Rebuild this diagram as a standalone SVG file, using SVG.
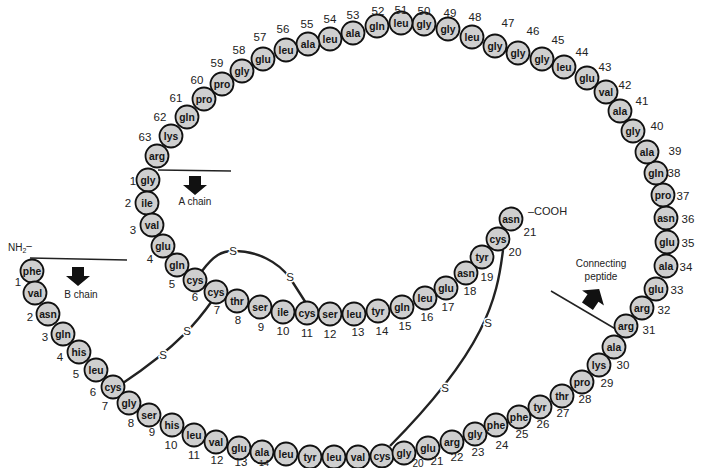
<svg xmlns="http://www.w3.org/2000/svg" width="701" height="468" viewBox="0 0 701 468">
<style>
.r circle{fill:#cfcfcf;stroke:#111;stroke-width:1.8}
.r text{font-family:"Liberation Sans",Arial,sans-serif;font-size:10.3px;font-weight:bold;fill:#151515;text-anchor:middle;dominant-baseline:central}
.n{font-family:"Liberation Sans",Arial,sans-serif;font-size:11.5px;fill:#222;text-anchor:middle;dominant-baseline:central}
.ss{fill:none;stroke:#222;stroke-width:2.4}
.s{font-family:"Liberation Sans",Arial,sans-serif;font-size:11.5px;fill:#222;text-anchor:middle;dominant-baseline:central;stroke:#fff;stroke-width:3;paint-order:stroke}
.t{font-family:"Liberation Sans",Arial,sans-serif;font-size:10px;fill:#222;text-anchor:middle}
.ln{stroke:#222;stroke-width:1.5;fill:none}
</style>
<defs>
<path id="arr" d="M-6,-9 H6 V0 H12 L0,10 L-12,0 H-6 Z" fill="#111"/>
</defs>

<g id="connectors">
<path class="ss" d="M202,271 C214,255 222,251 233,251 C258,251 278,262 290,278 L306,303"/>
<path class="ss" d="M212,301 C200,318 180,345 123,383"/>
<path class="ss" d="M503,250 C497,300 485,350 390,446"/>
<text class="s" x="233" y="251">S</text>
<text class="s" x="290" y="277">S</text>
<text class="s" x="187" y="331">S</text>
<text class="s" x="163" y="355">S</text>
<text class="s" x="488" y="323">S</text>
<text class="s" x="445" y="388">S</text>
</g>

<g id="markers">
<line class="ln" x1="158" y1="170" x2="231" y2="171"/>
<use href="#arr" transform="translate(195,185)"/>
<text class="t" x="195" y="205">A chain</text>
<line class="ln" x1="30" y1="258" x2="127" y2="260"/>
<use href="#arr" transform="translate(78,276)"/>
<text class="t" x="81" y="298">B chain</text>
<line class="ln" x1="551" y1="291" x2="619" y2="331"/>
<use href="#arr" transform="translate(593,298) rotate(214) scale(1.1)"/>
<text class="t" x="601" y="267">Connecting</text>
<text class="t" x="601" y="280">peptide</text>
<text class="t" x="528" y="215" style="text-anchor:start;font-size:11px">–COOH</text>
<text class="t" x="8" y="251" style="text-anchor:start;font-size:10px">NH<tspan font-size="7" dy="2">2</tspan><tspan dy="-4">–</tspan></text>
</g>

<g id="A1" class="r"><circle cx="148" cy="180" r="11.5"/><text x="148" y="180">gly</text></g>
<g id="A2" class="r"><circle cx="147" cy="203" r="11.5"/><text x="147" y="203">ile</text></g>
<g id="A3" class="r"><circle cx="152" cy="225" r="11.5"/><text x="152" y="225">val</text></g>
<g id="A4" class="r"><circle cx="163" cy="246" r="11.5"/><text x="163" y="246">glu</text></g>
<g id="A5" class="r"><circle cx="177" cy="265" r="11.5"/><text x="177" y="265">gln</text></g>
<g id="A6" class="r"><circle cx="195" cy="280" r="11.5"/><text x="195" y="280">cys</text></g>
<g id="A7" class="r"><circle cx="216" cy="292" r="11.5"/><text x="216" y="292">cys</text></g>
<g id="A8" class="r"><circle cx="237" cy="301" r="11.5"/><text x="237" y="301">thr</text></g>
<g id="A9" class="r"><circle cx="260" cy="307" r="11.5"/><text x="260" y="307">ser</text></g>
<g id="A10" class="r"><circle cx="283" cy="312" r="11.5"/><text x="283" y="312">ile</text></g>
<g id="A11" class="r"><circle cx="307" cy="313" r="11.5"/><text x="307" y="313">cys</text></g>
<g id="A12" class="r"><circle cx="330" cy="314" r="11.5"/><text x="330" y="314">ser</text></g>
<g id="A13" class="r"><circle cx="354" cy="314" r="11.5"/><text x="354" y="314">leu</text></g>
<g id="A14" class="r"><circle cx="378" cy="311" r="11.5"/><text x="378" y="311">tyr</text></g>
<g id="A15" class="r"><circle cx="402" cy="307" r="11.5"/><text x="402" y="307">gln</text></g>
<g id="A16" class="r"><circle cx="425" cy="298" r="11.5"/><text x="425" y="298">leu</text></g>
<g id="A17" class="r"><circle cx="446" cy="288" r="11.5"/><text x="446" y="288">glu</text></g>
<g id="A18" class="r"><circle cx="466" cy="273" r="11.5"/><text x="466" y="273">asn</text></g>
<g id="A19" class="r"><circle cx="482" cy="257" r="11.5"/><text x="482" y="257">tyr</text></g>
<g id="A20" class="r"><circle cx="498" cy="239" r="11.5"/><text x="498" y="239">cys</text></g>
<g id="A21" class="r"><circle cx="511" cy="219" r="11.5"/><text x="511" y="219">asn</text></g>

<g id="B1" class="r"><circle cx="32" cy="271" r="11.5"/><text x="32" y="271">phe</text></g>
<g id="B2" class="r"><circle cx="35" cy="293" r="11.5"/><text x="35" y="293">val</text></g>
<g id="B3" class="r"><circle cx="48" cy="314" r="11.5"/><text x="48" y="314">asn</text></g>
<g id="B4" class="r"><circle cx="63" cy="334" r="11.5"/><text x="63" y="334">gln</text></g>
<g id="B5" class="r"><circle cx="79" cy="352" r="11.5"/><text x="79" y="352">his</text></g>
<g id="B6" class="r"><circle cx="96" cy="370" r="11.5"/><text x="96" y="370">leu</text></g>
<g id="B7" class="r"><circle cx="113" cy="387" r="11.5"/><text x="113" y="387">cys</text></g>
<g id="B8" class="r"><circle cx="129" cy="403" r="11.5"/><text x="129" y="403">gly</text></g>
<g id="B9" class="r"><circle cx="149" cy="415" r="11.5"/><text x="149" y="415">ser</text></g>
<g id="B10" class="r"><circle cx="172" cy="425" r="11.5"/><text x="172" y="425">his</text></g>
<g id="B11" class="r"><circle cx="194" cy="435" r="11.5"/><text x="194" y="435">leu</text></g>
<g id="B12" class="r"><circle cx="216" cy="442" r="11.5"/><text x="216" y="442">val</text></g>
<g id="B13" class="r"><circle cx="239" cy="448" r="11.5"/><text x="239" y="448">glu</text></g>
<g id="B14" class="r"><circle cx="262" cy="452" r="11.5"/><text x="262" y="452">ala</text></g>
<g id="B15" class="r"><circle cx="286" cy="454" r="11.5"/><text x="286" y="454">leu</text></g>
<g id="B16" class="r"><circle cx="310" cy="457" r="11.5"/><text x="310" y="457">tyr</text></g>
<g id="B17" class="r"><circle cx="334" cy="457" r="11.5"/><text x="334" y="457">leu</text></g>
<g id="B18" class="r"><circle cx="358" cy="457" r="11.5"/><text x="358" y="457">val</text></g>
<g id="B19" class="r"><circle cx="382" cy="456" r="11.5"/><text x="382" y="456">cys</text></g>
<g id="B20" class="r"><circle cx="404" cy="453" r="11.5"/><text x="404" y="453">gly</text></g>
<g id="B21" class="r"><circle cx="428" cy="448" r="11.5"/><text x="428" y="448">glu</text></g>
<g id="B22" class="r"><circle cx="452" cy="442" r="11.5"/><text x="452" y="442">arg</text></g>
<g id="B23" class="r"><circle cx="475" cy="434" r="11.5"/><text x="475" y="434">gly</text></g>
<g id="B24" class="r"><circle cx="496" cy="425" r="11.5"/><text x="496" y="425">phe</text></g>
<g id="B25" class="r"><circle cx="519" cy="417" r="11.5"/><text x="519" y="417">phe</text></g>
<g id="B26" class="r"><circle cx="540" cy="407" r="11.5"/><text x="540" y="407">tyr</text></g>
<g id="B27" class="r"><circle cx="562" cy="396" r="11.5"/><text x="562" y="396">thr</text></g>
<g id="B28" class="r"><circle cx="582" cy="382" r="11.5"/><text x="582" y="382">pro</text></g>
<g id="B29" class="r"><circle cx="599" cy="365" r="11.5"/><text x="599" y="365">lys</text></g>
<g id="B30" class="r"><circle cx="614" cy="347" r="11.5"/><text x="614" y="347">ala</text></g>

<g id="C31" class="r"><circle cx="626" cy="326" r="11.5"/><text x="626" y="326">arg</text></g>
<g id="C32" class="r"><circle cx="642" cy="308" r="11.5"/><text x="642" y="308">arg</text></g>
<g id="C33" class="r"><circle cx="656" cy="289" r="11.5"/><text x="656" y="289">glu</text></g>
<g id="C34" class="r"><circle cx="666" cy="266" r="11.5"/><text x="666" y="266">ala</text></g>
<g id="C35" class="r"><circle cx="667" cy="242" r="11.5"/><text x="667" y="242">glu</text></g>
<g id="C36" class="r"><circle cx="666" cy="218" r="11.5"/><text x="666" y="218">asn</text></g>
<g id="C37" class="r"><circle cx="663" cy="195" r="11.5"/><text x="663" y="195">pro</text></g>
<g id="C38" class="r"><circle cx="656" cy="173" r="11.5"/><text x="656" y="173">gln</text></g>
<g id="C39" class="r"><circle cx="647" cy="152" r="11.5"/><text x="647" y="152">ala</text></g>
<g id="C40" class="r"><circle cx="633" cy="131" r="11.5"/><text x="633" y="131">gly</text></g>
<g id="C41" class="r"><circle cx="620" cy="111" r="11.5"/><text x="620" y="111">ala</text></g>
<g id="C42" class="r"><circle cx="606" cy="92" r="11.5"/><text x="606" y="92">val</text></g>
<g id="C43" class="r"><circle cx="587" cy="78" r="11.5"/><text x="587" y="78">glu</text></g>
<g id="C44" class="r"><circle cx="564" cy="67" r="11.5"/><text x="564" y="67">leu</text></g>
<g id="C45" class="r"><circle cx="542" cy="59" r="11.5"/><text x="542" y="59">gly</text></g>
<g id="C46" class="r"><circle cx="518" cy="53" r="11.5"/><text x="518" y="53">gly</text></g>
<g id="C47" class="r"><circle cx="495" cy="46" r="11.5"/><text x="495" y="46">gly</text></g>
<g id="C48" class="r"><circle cx="472" cy="37" r="11.5"/><text x="472" y="37">leu</text></g>
<g id="C49" class="r"><circle cx="448" cy="29" r="11.5"/><text x="448" y="29">gly</text></g>
<g id="C50" class="r"><circle cx="424" cy="24" r="11.5"/><text x="424" y="24">gly</text></g>
<g id="C51" class="r"><circle cx="401" cy="23" r="11.5"/><text x="401" y="23">leu</text></g>
<g id="C52" class="r"><circle cx="377" cy="26" r="11.5"/><text x="377" y="26">gln</text></g>
<g id="C53" class="r"><circle cx="353" cy="33" r="11.5"/><text x="353" y="33">ala</text></g>
<g id="C54" class="r"><circle cx="330" cy="39" r="11.5"/><text x="330" y="39">leu</text></g>
<g id="C55" class="r"><circle cx="308" cy="44" r="11.5"/><text x="308" y="44">ala</text></g>
<g id="C56" class="r"><circle cx="286" cy="50" r="11.5"/><text x="286" y="50">leu</text></g>
<g id="C57" class="r"><circle cx="263" cy="59" r="11.5"/><text x="263" y="59">glu</text></g>
<g id="C58" class="r"><circle cx="242" cy="71" r="11.5"/><text x="242" y="71">gly</text></g>
<g id="C59" class="r"><circle cx="222" cy="84" r="11.5"/><text x="222" y="84">pro</text></g>
<g id="C60" class="r"><circle cx="204" cy="99" r="11.5"/><text x="204" y="99">pro</text></g>
<g id="C61" class="r"><circle cx="187" cy="117" r="11.5"/><text x="187" y="117">gln</text></g>
<g id="C62" class="r"><circle cx="171" cy="136" r="11.5"/><text x="171" y="136">lys</text></g>
<g id="C63" class="r"><circle cx="157" cy="156" r="11.5"/><text x="157" y="156">arg</text></g>

<g id="numbers">
<text class="n" x="133" y="181">1</text><text class="n" x="128" y="203">2</text><text class="n" x="133" y="230">3</text>
<text class="n" x="150" y="259">4</text><text class="n" x="172" y="284">5</text><text class="n" x="195" y="297">6</text>
<text class="n" x="217" y="310">7</text><text class="n" x="238" y="320">8</text><text class="n" x="261" y="327">9</text>
<text class="n" x="283" y="331">10</text><text class="n" x="307" y="333">11</text><text class="n" x="330" y="334">12</text>
<text class="n" x="358" y="332">13</text><text class="n" x="382" y="331">14</text><text class="n" x="405" y="326">15</text>
<text class="n" x="427" y="317">16</text><text class="n" x="448" y="307">17</text><text class="n" x="470" y="291">18</text>
<text class="n" x="487" y="277">19</text><text class="n" x="515" y="252">20</text><text class="n" x="530" y="232">21</text>

<text class="n" x="18" y="282">1</text><text class="n" x="30" y="317">2</text><text class="n" x="45" y="337">3</text>
<text class="n" x="60" y="357">4</text><text class="n" x="76" y="374">5</text><text class="n" x="93" y="392">6</text>
<text class="n" x="105" y="406">7</text><text class="n" x="131" y="423">8</text><text class="n" x="152" y="432">9</text>
<text class="n" x="171" y="445">10</text><text class="n" x="194" y="455">11</text><text class="n" x="217" y="460">12</text>
<text class="n" x="241" y="462">13</text><text class="n" x="264" y="463" style="font-size:9px">14</text>
<text class="n" x="418" y="463" style="font-size:10px">20</text><text class="n" x="437" y="461">21</text><text class="n" x="457" y="457">22</text>
<text class="n" x="478" y="452">23</text><text class="n" x="502" y="445">24</text><text class="n" x="522" y="434">25</text>
<text class="n" x="543" y="424">26</text><text class="n" x="563" y="413">27</text><text class="n" x="585" y="399">28</text>
<text class="n" x="607" y="383">29</text><text class="n" x="623" y="365">30</text>

<text class="n" x="649" y="330">31</text><text class="n" x="664" y="310">32</text><text class="n" x="677" y="290">33</text>
<text class="n" x="686" y="267">34</text><text class="n" x="688" y="243">35</text><text class="n" x="688" y="219">36</text>
<text class="n" x="683" y="196">37</text><text class="n" x="674" y="173">38</text><text class="n" x="675" y="151">39</text>
<text class="n" x="657" y="126">40</text><text class="n" x="642" y="101">41</text><text class="n" x="625" y="85">42</text>
<text class="n" x="605" y="67">43</text><text class="n" x="582" y="52">44</text><text class="n" x="558" y="40">45</text>
<text class="n" x="533" y="31">46</text><text class="n" x="508" y="23">47</text><text class="n" x="475" y="17">48</text>
<text class="n" x="450" y="13">49</text><text class="n" x="424" y="11">50</text><text class="n" x="401" y="10">51</text>
<text class="n" x="378" y="11">52</text><text class="n" x="353" y="15">53</text><text class="n" x="330" y="19">54</text>
<text class="n" x="307" y="24">55</text><text class="n" x="283" y="29">56</text><text class="n" x="260" y="37">57</text>
<text class="n" x="239" y="50">58</text><text class="n" x="217" y="63">59</text><text class="n" x="197" y="80">60</text>
<text class="n" x="176" y="98">61</text><text class="n" x="160" y="117">62</text><text class="n" x="145" y="137">63</text>
</g>
</svg>
